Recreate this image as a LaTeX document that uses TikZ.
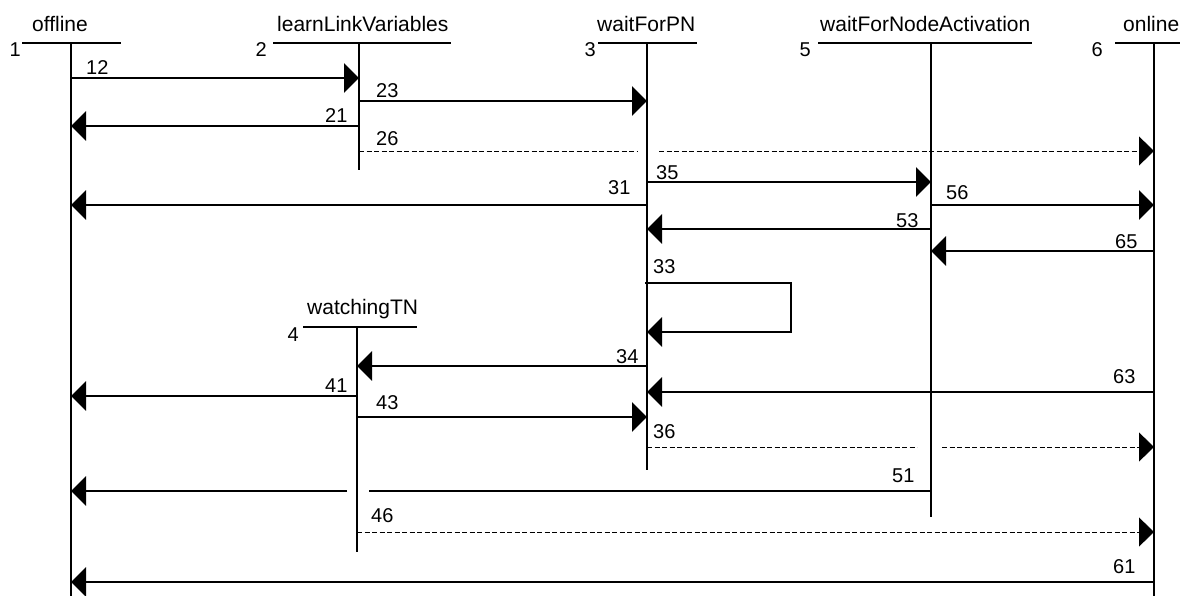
\documentclass[tikz,border=0pt]{standalone}
\usepackage{fontspec}
\setmainfont{Liberation Sans}
\usetikzlibrary{arrows.meta}
\begin{document}
\begin{tikzpicture}[x=1pt,y=-1pt,
  plain/.style={line width=2.5pt},
  trans/.style={line width=2.5pt,-{Triangle[length=15pt,width=29pt]}},
  dashplain/.style={line width=0.9pt,dash pattern=on 5pt off 2.5pt},
  dashtrans/.style={line width=0.9pt,dash pattern=on 5pt off 2.5pt,-{Triangle[length=15pt,width=29pt]}},
  sname/.style={font=\fontsize{21}{24}\selectfont,inner sep=0pt,anchor=base west},
  snum/.style={font=\fontsize{20}{24}\selectfont,inner sep=0pt,anchor=base east},
  lab/.style={font=\fontsize{20}{24}\selectfont,inner sep=0pt,anchor=base west}]
\useasboundingbox (0,0) rectangle (1180,596);
% state line end points
\coordinate (s1t) at (71,43);   \coordinate (s1b) at (71,600);
\coordinate (s2t) at (359,43);  \coordinate (s2b) at (359,170);
\coordinate (s3t) at (647,43);  \coordinate (s3b) at (647,470);
\coordinate (s5t) at (931,43);  \coordinate (s5b) at (931,517);
\coordinate (s6t) at (1154,43); \coordinate (s6b) at (1154,600);
\coordinate (s4t) at (357,327); \coordinate (s4b) at (357,552);
% header bars
\coordinate (h1a) at (22,43);   \coordinate (h1b) at (121,43);
\coordinate (h2a) at (273,43);  \coordinate (h2b) at (451,43);
\coordinate (h3a) at (598,43);  \coordinate (h3b) at (697,43);
\coordinate (h5a) at (818,43);  \coordinate (h5b) at (1032,43);
\coordinate (h6a) at (1115,43); \coordinate (h6b) at (1190,43);
\coordinate (h4a) at (303,327); \coordinate (h4b) at (417,327);
\foreach \n in {1,2,3,4,5,6}{\draw[plain] (h\n a) -- (h\n b);}
\foreach \n in {1,2,3,4,5,6}{\draw[plain] (s\n t) -- (s\n b);}
% state names and numbers
\node[sname] (n1) at (32,32) {offline};
\node[sname] (n2) at (277,32) {learnLinkVariables};
\node[sname] (n3) at (597,32) {waitForPN};
\node[sname] (n5) at (820,32) {waitForNodeActivation};
\node[sname] (n6) at (1123,32) {online};
\node[sname] (n4) at (307,314) {watchingTN};
\node[snum] (k1) at (21,57) {1};
\node[snum] (k2) at (267,57) {2};
\node[snum] (k3) at (596,57) {3};
\node[snum] (k5) at (811,57) {5};
\node[snum] (k6) at (1103,57) {6};
\node[snum] (k4) at (299,341) {4};
% transitions
\draw[trans] (s1t |- 0,78) -- (s2t |- 0,78);
\node[lab] (t12) at (86,75) {12};
\draw[trans] (s2t |- 0,101) -- (s3t |- 0,101);
\node[lab] (t23) at (376,98) {23};
\draw[trans] (s2t |- 0,126) -- (s1t |- 0,126);
\node[lab] (t21) at (325,123) {21};
\coordinate (g26a) at (637,151); \coordinate (g26b) at (659,151);
\draw[dashplain] (s2t |- 0,151) -- (g26a);
\draw[dashtrans] (g26b) -- (s6t |- 0,151);
\node[lab] (t26) at (376,146) {26};
\draw[trans] (s3t |- 0,182) -- (s5t |- 0,182);
\node[lab] (t35) at (656,180) {35};
\draw[trans] (s3t |- 0,205) -- (s1t |- 0,205);
\node[lab] (t31) at (608,195) {31};
\draw[trans] (s5t |- 0,205) -- (s6t |- 0,205);
\node[lab] (t56) at (946,200) {56};
\draw[trans] (s5t |- 0,229) -- (s3t |- 0,229);
\node[lab] (t53) at (896,227) {53};
\draw[trans] (s6t |- 0,251) -- (s5t |- 0,251);
\node[lab] (t65) at (1115,248) {65};
\coordinate (l33a) at (645,283); \coordinate (l33b) at (791,283); \coordinate (l33c) at (791,332);
\draw[trans] (l33a) -- (l33b) -- (l33c) -- (s3t |- l33c);
\node[lab] (t33) at (653,273) {33};
\draw[trans] (s3t |- 0,366) -- (s4t |- 0,366);
\node[lab] (t34) at (616,363) {34};
\draw[trans] (s6t |- 0,392) -- (s3t |- 0,392);
\node[lab] (t63) at (1113,383) {63};
\draw[trans] (s4t |- 0,396) -- (s1t |- 0,396);
\node[lab] (t41) at (325,392) {41};
\draw[trans] (s4t |- 0,417) -- (s3t |- 0,417);
\node[lab] (t43) at (376,409) {43};
\coordinate (g36a) at (917,447); \coordinate (g36b) at (942,447);
\draw[dashplain] (s3t |- 0,447) -- (g36a);
\draw[dashtrans] (g36b) -- (s6t |- 0,447);
\node[lab] (t36) at (653,438) {36};
\coordinate (g51a) at (369,491); \coordinate (g51b) at (347,491);
\draw[plain] (s5t |- 0,491) -- (g51a);
\draw[trans] (g51b) -- (s1t |- 0,491);
\node[lab] (t51) at (892,482) {51};
\draw[dashtrans] (s4t |- 0,532) -- (s6t |- 0,532);
\node[lab] (t46) at (371,522) {46};
\draw[trans] (s6t |- 0,582) -- (s1t |- 0,582);
\node[lab] (t61) at (1113,573) {61};
\end{tikzpicture}
\end{document}
